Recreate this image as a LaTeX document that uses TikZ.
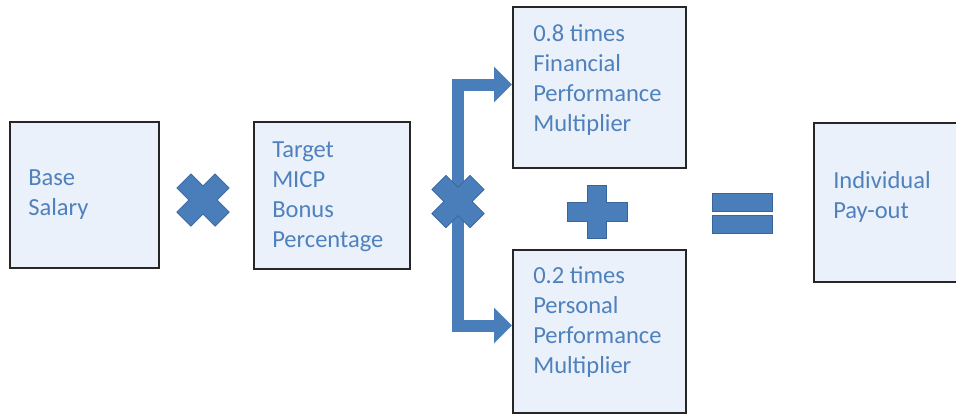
\documentclass[tikz,border=0pt]{standalone}
\usepackage{fontspec}
\setmainfont{Carlito}
\usetikzlibrary{arrows.meta}
\usepackage{xcolor}
\definecolor{boxfill}{RGB}{235,241,250}
\definecolor{boxline}{RGB}{38,38,38}
\definecolor{txtblue}{RGB}{79,129,189}
\definecolor{symfill}{RGB}{74,126,187}
\definecolor{symline}{RGB}{58,101,155}

\begin{document}
\begin{tikzpicture}[x=0.75pt,y=0.75pt,yscale=-1,xscale=1,
  box/.style={draw=boxline, line width=1.5pt, fill=boxfill, inner sep=0pt},
  lbl/.style={anchor=west, align=left, inner sep=0pt, text=txtblue, font=\fontsize{18.4}{22.5}\selectfont},
  sym/.style={fill=symfill, draw=symline, line width=0.6pt},
  branch/.style={draw=symfill, line width=9pt, -{Triangle[length=13.5pt,width=26pt]}}]
\useasboundingbox (0,0) rectangle (956,415);

%Boxes
\node[box, minimum width=111.75pt, minimum height=109.5pt] (base) at (84.5,195) {};
\node[box, minimum width=117pt, minimum height=110.25pt] (bonus) at (332,195.5) {};
\node[box, minimum width=129.75pt, minimum height=120.75pt] (fin) at (599.5,87.5) {};
\node[box, minimum width=129.75pt, minimum height=122.25pt] (pers) at (599.5,331.5) {};
\node[box, minimum width=111pt, minimum height=119.25pt] (payout) at (888,202.5) {};

%Symbol centres
\coordinate (times1) at (203,200);
\coordinate (times2) at (458,201.5);
\coordinate (plus) at (597,211.5);
\coordinate (equals) at (742,213);

%Branch arrows
\draw[branch] (times2) |- ([yshift=-2.25pt]fin.west);
\draw[branch] (times2) |- ([yshift=-4.5pt]pers.west);

%Times signs
\foreach \c in {times1,times2}
  \draw[sym, shift={(\c)}, rotate=45] (10,27) -- (10,10) -- (27,10) -- (27,-10) -- (10,-10) -- (10,-27) -- (-10,-27) -- (-10,-10) -- (-27,-10) -- (-27,10) -- (-10,10) -- (-10,27) -- cycle ;
%Plus sign
\draw[sym, shift={(plus)}] (9.5,-26.5) -- (9.5,-9.5) -- (30,-9.5) -- (30,9.5) -- (9.5,9.5) -- (9.5,26.5) -- (-9.5,26.5) -- (-9.5,9.5) -- (-30,9.5) -- (-30,-9.5) -- (-9.5,-9.5) -- (-9.5,-26.5) -- cycle ;
%Equals sign
\draw[sym, shift={(equals)}] (-30,-20) rectangle (30,-2) (-30,2) rectangle (30,20) ;

% Text Node
\node[lbl] (basetxt) at (28,195) {Base\\Salary};
% Text Node
\node[lbl] (bonustxt) at (272,197) {Target\\MICP\\Bonus\\Percentage};
% Text Node
\node[lbl] (fintxt) at (533,80) {0.8 times\\Financial\\Performance\\Multiplier};
% Text Node
\node[lbl] (perstxt) at (533,322) {0.2 times\\Personal\\Performance\\Multiplier};
% Text Node
\node[lbl] (paytxt) at (833,197) {Individual\\Pay-out};

\end{tikzpicture}
\end{document}
